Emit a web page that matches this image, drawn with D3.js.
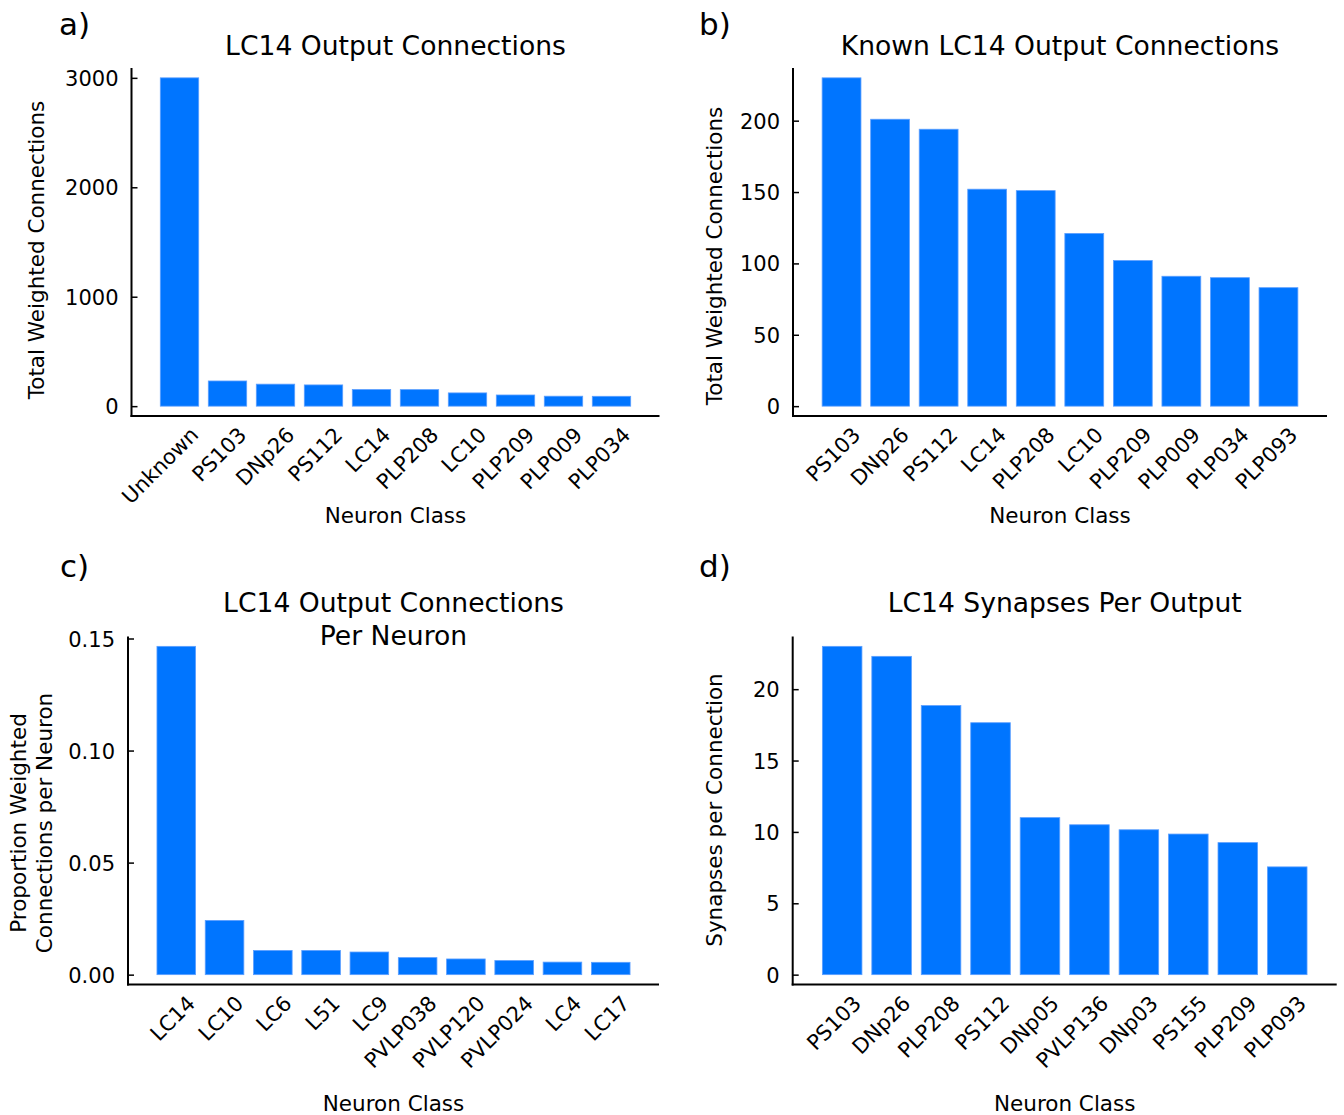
<!DOCTYPE html>
<html>
<head>
<meta charset="utf-8">
<script src="https://cdn.jsdelivr.net/npm/d3@7"></script>
<style>
  html, body { margin: 0; padding: 0; background: #fff; }
  svg { display: block; }
  text { font-family: "DejaVu Sans", sans-serif; fill: #000; }
</style>
</head>
<body>
<svg id="fig" width="1344" height="1115"></svg>
<script>
// ---- data ----
const outputClasses = ["Unknown", "PS103", "DNp26", "PS112", "LC14", "PLP208", "LC10", "PLP209", "PLP009", "PLP034"];
const outputTotals = [3000, 230, 201, 194, 152, 151, 121, 102, 91, 90];
const outputTicks = [0, 1000, 2000, 3000];

const knownClasses = ["PS103", "DNp26", "PS112", "LC14", "PLP208", "LC10", "PLP209", "PLP009", "PLP034", "PLP093"];
const knownTotals = [230, 201, 194, 152, 151, 121, 102, 91, 90, 83];
const knownTicks = [0, 50, 100, 150, 200];

const perNeuronClasses = ["LC14", "LC10", "LC6", "L51", "LC9", "PVLP038", "PVLP120", "PVLP024", "LC4", "LC17"];
const perNeuronProportions = [0.1465, 0.0242, 0.0108, 0.0108, 0.0101, 0.0076, 0.0070, 0.0063, 0.0056, 0.0055];
const perNeuronTicks = [0, 0.05, 0.10, 0.15];

const synapseClasses = ["PS103", "DNp26", "PLP208", "PS112", "DNp05", "PVLP136", "DNp03", "PS155", "PLP209", "PLP093"];
const synapsesPerConnection = [23.0, 22.3, 18.85, 17.65, 11.0, 10.5, 10.15, 9.85, 9.25, 7.55];
const synapseTicks = [0, 5, 10, 15, 20];

// ---- styling ----
const BAR_FILL = "#0075ff";
const BAR_EDGE = "#5c9fff";
const TICK_FONT = 21;
const LABEL_FONT = 21.5;
const TITLE_FONT = 26.6;

const panels = [
  { letter: "a)", classes: outputClasses, values: outputTotals, ticks: outputTicks, fmt: d3.format("d"),
    left: 131.5, right: 659.5, top: 68, bottom: 416,
    letterPos: [59, 35], title: ["LC14 Output Connections"], titleY: 55,
    ylabel: ["Total Weighted Connections"], ylabelX: [44], ylabelY: 250, xlabelY: 523 },
  { letter: "b)", classes: knownClasses, values: knownTotals, ticks: knownTicks, fmt: d3.format("d"),
    left: 793, right: 1327, top: 68, bottom: 416,
    letterPos: [699, 35], title: ["Known LC14 Output Connections"], titleY: 55,
    ylabel: ["Total Weighted Connections"], ylabelX: [722], ylabelY: 256, xlabelY: 523 },
  { letter: "c)", classes: perNeuronClasses, values: perNeuronProportions, ticks: perNeuronTicks, fmt: d3.format(".2f"),
    left: 128, right: 659, top: 636.5, bottom: 984.5,
    letterPos: [60, 577], title: ["LC14 Output Connections", "Per Neuron"], titleY: 612,
    ylabel: ["Proportion Weighted", "Connections per Neuron"], ylabelX: [25.5, 51.5], ylabelY: 823, xlabelY: 1111 },
  { letter: "d)", classes: synapseClasses, values: synapsesPerConnection, ticks: synapseTicks, fmt: d3.format("d"),
    left: 792.7, right: 1336.7, top: 636.5, bottom: 984.5,
    letterPos: [699, 577], title: ["LC14 Synapses Per Output"], titleY: 612,
    ylabel: ["Synapses per Connection"], ylabelX: [722], ylabelY: 810, xlabelY: 1111 }
];

const svg = d3.select("#fig");

panels.forEach(p => {
  const g = svg.append("g");
  const maxV = d3.max(p.values);

  const x = d3.scaleBand()
    .domain(p.classes)
    .range([p.left, p.right])
    .paddingInner(0.2)
    .paddingOuter(0.6);

  const y = d3.scaleLinear()
    .domain([-0.03 * maxV, 1.03 * maxV])
    .range([p.bottom, p.top]);

  // bars
  g.append("g").selectAll("rect")
    .data(p.classes.map((c, i) => ({ c, v: p.values[i] })))
    .join("rect")
    .attr("x", d => x(d.c))
    .attr("width", x.bandwidth())
    .attr("y", d => y(d.v))
    .attr("height", d => y(0) - y(d.v))
    .attr("fill", BAR_FILL)
    .attr("stroke", BAR_EDGE)
    .attr("stroke-width", 0.8);

  // y axis: ticks point into the plot
  const yAxis = d3.axisLeft(y)
    .tickValues(p.ticks)
    .tickFormat(p.fmt)
    .tickSize(-6)
    .tickPadding(13);
  const ay = g.append("g")
    .attr("transform", `translate(${p.left},0)`)
    .call(yAxis);
  ay.select(".domain").remove();
  ay.selectAll(".tick line").attr("stroke", "#000").attr("stroke-width", 1.5);
  ay.selectAll(".tick text")
    .attr("font-family", "DejaVu Sans")
    .attr("font-size", TICK_FONT)
    .attr("dy", "0.36em");
  ay.attr("font-family", null).attr("font-size", null);

  // x tick labels, rotated
  g.append("g").selectAll("text")
    .data(p.classes)
    .join("text")
    .attr("transform", d => `translate(${x(d) + x.bandwidth() / 2 + 15},${p.bottom + 15}) rotate(-45)`)
    .attr("text-anchor", "end")
    .attr("dy", "0.35em")
    .attr("font-size", TICK_FONT)
    .text(d => d);

  // spines
  g.append("line")
    .attr("x1", p.left).attr("x2", p.left)
    .attr("y1", p.top).attr("y2", p.bottom + 1)
    .attr("stroke", "#000").attr("stroke-width", 2);
  g.append("line")
    .attr("x1", p.left - 1).attr("x2", p.right)
    .attr("y1", p.bottom).attr("y2", p.bottom)
    .attr("stroke", "#000").attr("stroke-width", 2);

  const cx = (p.left + p.right) / 2;

  // title
  p.title.forEach((t, i) => {
    g.append("text")
      .attr("x", cx).attr("y", p.titleY + i * 33)
      .attr("text-anchor", "middle")
      .attr("font-size", TITLE_FONT)
      .text(t);
  });

  // y label
  p.ylabel.forEach((t, i) => {
    g.append("text")
      .attr("transform", `translate(${p.ylabelX[i]},${p.ylabelY}) rotate(-90)`)
      .attr("text-anchor", "middle")
      .attr("font-size", LABEL_FONT)
      .text(t);
  });

  // x label
  g.append("text")
    .attr("x", cx).attr("y", p.xlabelY)
    .attr("text-anchor", "middle")
    .attr("font-size", LABEL_FONT)
    .text("Neuron Class");

  // panel letter
  g.append("text")
    .attr("x", p.letterPos[0]).attr("y", p.letterPos[1])
    .attr("font-size", 31)
    .text(p.letter);
});
</script>
</body>
</html>
